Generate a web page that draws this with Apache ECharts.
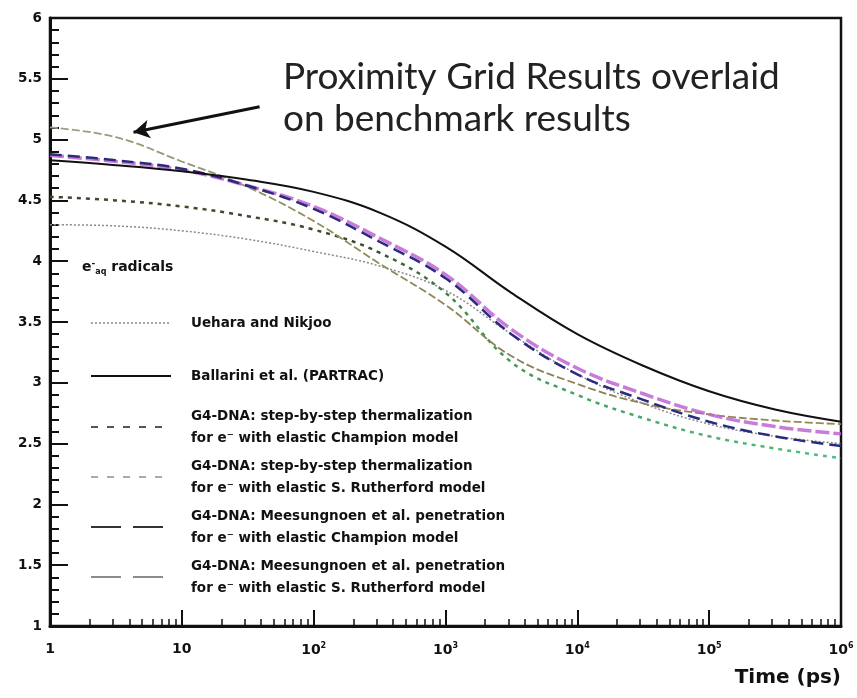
<!DOCTYPE html>
<html>
<head>
<meta charset="utf-8">
<script src="https://cdn.jsdelivr.net/npm/echarts@6/dist/echarts.min.js"></script>
<style>html,body{margin:0;padding:0;background:#fff;}#c{width:857px;height:698px;}</style>
</head>
<body>
<div id="c"></div>
<script>
// time points (ps), half-decade steps
const times = [1, 3.16, 10, 31.6, 100, 316, 1000, 3160, 10000, 31600, 100000, 316000, 1000000];
// e-aq yield (molecules / 100 eV)
const uehara         = [4.30, 4.29, 4.25, 4.18, 4.08, 3.96, 3.76, 3.40, 3.07, 2.83, 2.66, 2.56, 2.50];
const ballarini      = [4.83, 4.79, 4.74, 4.67, 4.57, 4.40, 4.12, 3.74, 3.40, 3.14, 2.93, 2.78, 2.68];
const stepChampion   = [4.53, 4.50, 4.45, 4.37, 4.26, 4.07, 3.74, 3.17, 2.90, 2.71, 2.56, 2.46, 2.38];
const stepRutherford = [5.10, 5.02, 4.82, 4.61, 4.33, 3.98, 3.64, 3.22, 2.99, 2.83, 2.74, 2.69, 2.66];
const meesChampion   = [4.88, 4.83, 4.76, 4.62, 4.43, 4.16, 3.86, 3.40, 3.07, 2.86, 2.68, 2.56, 2.48];
const meesRutherford = [4.87, 4.82, 4.75, 4.62, 4.45, 4.19, 3.89, 3.44, 3.12, 2.91, 2.74, 2.64, 2.58];

const seriesNames = [
  'Uehara and Nikjoo',
  'Ballarini et al. (PARTRAC)',
  'G4-DNA: step-by-step thermalization\nfor e\u207B with elastic Champion model',
  'G4-DNA: step-by-step thermalization\nfor e\u207B with elastic S. Rutherford model',
  'G4-DNA: Meesungnoen et al. penetration\nfor e\u207B with elastic Champion model',
  'G4-DNA: Meesungnoen et al. penetration\nfor e\u207B with elastic S. Rutherford model'
];
const xTickLabels = {1:'{b|1}', 10:'{b|10}', 100:'{b|10}{s|2}', 1000:'{b|10}{s|3}', 10000:'{b|10}{s|4}', 100000:'{b|10}{s|5}', 1000000:'{b|10}{s|6}'};
const annotation = 'Proximity Grid Results overlaid\non benchmark results';
const xTitle = 'Time (ps)';

const pts = arr => times.map((t, i) => [t, arr[i]]);
const font = 'DejaVu Sans';

const chart = echarts.init(document.getElementById('c'), null, {renderer: 'canvas'});
const grad = (stops) => new echarts.graphic.LinearGradient(0, 0, 1, 0, stops);
const hidden = {opacity: 0, color: 'transparent', borderWidth: 0};

const legendText = {fontFamily: font, fontWeight: 'bold', fontSize: 13.5, color: '#111', lineHeight: 22, padding: [0, 0, 0, 15]};

chart.setOption({
  animation: false,
  backgroundColor: '#fff',
  grid: {left: 50, right: 16, top: 18, bottom: 72, show: true, borderColor: '#111', borderWidth: 2.5, backgroundColor: 'transparent'},
  xAxis: {
    type: 'log', logBase: 10, min: 1, max: 1000000,
    axisLine: {lineStyle: {color: '#111', width: 3}},
    axisTick: {inside: true, length: 16, lineStyle: {color: '#111', width: 2}},
    minorTick: {show: true, splitNumber: 9, length: 7, lineStyle: {color: '#111', width: 1.5}},
    splitLine: {show: false}, minorSplitLine: {show: false},
    axisLabel: {
      margin: 16, color: '#111',
      formatter: v => xTickLabels[Math.round(v)] || '',
      rich: {
        b: {fontFamily: font, fontWeight: 'bold', fontSize: 14, color: '#111'},
        s: {fontFamily: font, fontWeight: 'bold', fontSize: 8, color: '#111', padding: [0, 0, 9, 0]}
      }
    }
  },
  yAxis: {
    type: 'value', min: 1, max: 6, interval: 0.5,
    axisLine: {show: true, lineStyle: {color: '#111', width: 3}},
    axisTick: {inside: true, length: 18, lineStyle: {color: '#111', width: 2}},
    minorTick: {show: true, splitNumber: 5, length: 9, lineStyle: {color: '#111', width: 2}},
    splitLine: {show: false},
    axisLabel: {margin: 8, fontFamily: font, fontWeight: 'bold', fontSize: 13.5, color: '#111'}
  },
  legend: [
    {
      data: [
        {name: seriesNames[0], itemStyle: hidden, lineStyle: {color: '#888', type: [2, 2], width: 1.5}},
        {name: seriesNames[1], itemStyle: hidden, lineStyle: {color: '#111', type: 'solid', width: 2}}
      ],
      orient: 'vertical', left: 85, top: 307, itemWidth: 80, itemHeight: 14, itemGap: 31,
      selectedMode: false, itemStyle: hidden,
      textStyle: legendText
    },
    {
      data: [
        {name: seriesNames[2], itemStyle: hidden, lineStyle: {color: '#555', type: [7, 9], width: 2}},
        {name: seriesNames[3], itemStyle: hidden, lineStyle: {color: '#aaa', type: [7, 9], width: 2}},
        {name: seriesNames[4], itemStyle: hidden, lineStyle: {color: '#333', type: [30, 12], width: 2}},
        {name: seriesNames[5], itemStyle: hidden, lineStyle: {color: '#777', type: [30, 12], width: 2}}
      ],
      orient: 'vertical', left: 85, top: 400, itemWidth: 80, itemHeight: 14, itemGap: 6,
      selectedMode: false, itemStyle: hidden,
      textStyle: legendText
    }
  ],
  series: [
    {name: seriesNames[0], type: 'line', data: pts(uehara), smooth: 0.4, symbol: 'none', z: 2,
     lineStyle: {color: '#8a8a8a', type: [2, 2], width: 1.5}},
    {name: seriesNames[1], type: 'line', data: pts(ballarini), smooth: 0.4, symbol: 'none', z: 6,
     lineStyle: {color: '#111', type: 'solid', width: 2}},
    {name: seriesNames[2], type: 'line', data: pts(stepChampion), smooth: 0.4, symbol: 'none', z: 3,
     lineStyle: {color: grad([{offset: 0, color: '#3c4a2c'}, {offset: 0.4, color: '#3a4a30'}, {offset: 0.55, color: '#3f9a55'}, {offset: 1, color: '#4fbf85'}]), type: [4, 5], width: 2.5}},
    {name: seriesNames[3], type: 'line', data: pts(stepRutherford), smooth: 0.4, symbol: 'none', z: 3,
     lineStyle: {color: grad([{offset: 0, color: '#9aa08a'}, {offset: 0.35, color: '#8f8f5a'}, {offset: 0.6, color: '#8a7f55'}, {offset: 1, color: '#9a8a50'}]), type: [8, 3], width: 1.8},
     markLine: {
       silent: true, symbol: ['none', 'arrow'], symbolSize: [14, 16],
       lineStyle: {color: '#111', width: 3, type: 'solid'}, label: {show: false},
       data: [[{coord: [38.9, 5.27]}, {coord: [4.3, 5.06]}]]
     }},
    {name: seriesNames[4], type: 'line', data: pts(meesChampion), smooth: 0.4, symbol: 'none', z: 5,
     lineStyle: {color: '#2b2b7e', type: [12, 6], width: 2.5}},
    {name: seriesNames[5], type: 'line', data: pts(meesRutherford), smooth: 0.4, symbol: 'none', z: 4,
     lineStyle: {color: '#c064d4', type: [14, 4], width: 3.5, opacity: 0.85}}
  ],
  graphic: [
    {type: 'text', left: 283, top: 56, style: {text: annotation, font: '37px Lato', fill: '#222', lineHeight: 42}},
    {type: 'text', left: 82, top: 259, style: {
      text: '{e|e}{sup|-}{sub|aq}{t| radicals}',
      rich: {
        e: {fontFamily: font, fontWeight: 'bold', fontSize: 14, fill: '#111'},
        sup: {fontFamily: font, fontWeight: 'bold', fontSize: 9, fill: '#111', padding: [0, 0, 8, 0]},
        sub: {fontFamily: font, fontWeight: 'bold', fontSize: 8, fill: '#111', padding: [8, 0, 0, 0]},
        t: {fontFamily: font, fontWeight: 'bold', fontSize: 14, fill: '#111'}
      }
    }},
    {type: 'text', right: 16, top: 668, style: {text: xTitle, font: 'bold 20px "DejaVu Sans"', fill: '#111'}}
  ]
});
</script>
</body>
</html>
